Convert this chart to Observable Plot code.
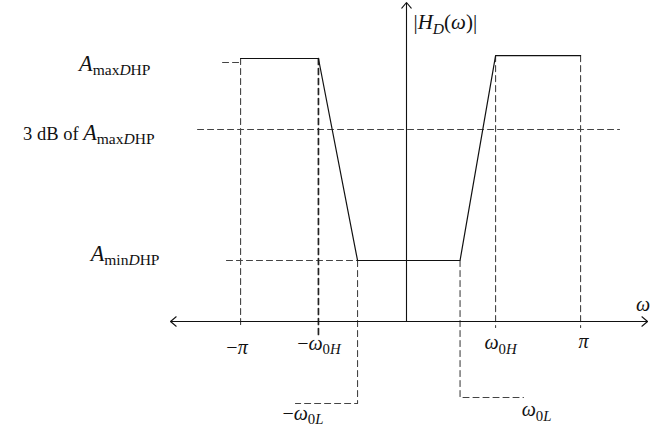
<!DOCTYPE html>
<html><head><meta charset="utf-8">
<script src="https://cdn.jsdelivr.net/npm/d3@7"></script>
<script src="https://cdn.jsdelivr.net/npm/@observablehq/plot@0.6"></script>
<style>html,body{margin:0;padding:0;background:#fff}svg{display:block}</style>
</head><body><div id="chart"></div>
<script>
// ---- Data (units: x in multiples of ~pi, y relative to A_max) ----
// Ideal digital high-pass magnitude response |H_D(w)|
const responseX = [-0.976, -0.518, -0.288, 0.315, 0.524, 1.024];
const responseY = [1.0, 1.0, 0.232, 0.232, 1.011, 1.011];

// Dashed guide polylines
const guideNames = ["maxTick", "negPi", "negW0H", "negW0L", "w0L", "w0H", "pi", "threeDB", "minLevel"];
const guideX = [
  [-1.082, -0.976],
  [-0.976, -0.976],
  [-0.518, -0.518],
  [-0.288, -0.288, -0.653],
  [0.315, 0.315, 0.688],
  [0.524, 0.524],
  [1.024, 1.024],
  [-1.229, 1.253],
  [-1.059, -0.288]
];
const guideY = [
  [0.985, 0.985],
  [1.0, -0.023],
  [1.0, -0.05],
  [0.232, -0.312, -0.312],
  [0.232, -0.289, -0.289],
  [1.011, -0.023],
  [1.011, -0.023],
  [0.730, 0.730],
  [0.232, 0.232]
];
const guideBold = [false, false, true, false, false, false, false, false, false];

// Axes (arrows from origin)
const axisX2 = [1.418, -1.388, 0];
const axisY2 = [0, 0, 1.213];

// Frequency labels (markup: *italic*, _{subscript})
const freqLabels = ["−*π*", "−*ω*_{0*H*}", "*ω*_{0*H*}", "*π*", "−*ω*_{0*L*}", "*ω*_{0*L*}", "*ω*"];
const freqLabelX = [-0.997, -0.515, 0.553, 1.041, -0.609, 0.765, 1.391];
const freqLabelY = [-0.100, -0.084, -0.081, -0.077, -0.350, -0.336, 0.064];

// Level labels
const levelLabels = ["*A*_{max*D*HP}", "3 dB of *A*_{max*D*HP}", "*A*_{min*D*HP}"];
const levelLabelX = [-1.506, -1.482, -1.453];
const levelLabelY = [0.976, 0.714, 0.254];

const yAxisLabel = ["|*H*_{*D*}(*ω*)|"];
const yAxisLabelX = [0.041];
const yAxisLabelY = [1.136];

// ---- Build tables ----
const response = responseX.map((x, i) => ({x, y: responseY[i]}));
const guides = guideNames.flatMap((g, i) => guideX[i].map((x, j) => ({g, x, y: guideY[i][j], bold: guideBold[i]})));
const axes = axisX2.map((x2, i) => ({x1: 0, y1: 0, x2, y2: axisY2[i]}));
const freq = freqLabels.map((t, i) => ({t, x: freqLabelX[i], y: freqLabelY[i]}));
const levels = levelLabels.map((t, i) => ({t, x: levelLabelX[i], y: levelLabelY[i]}));
const ylab = yAxisLabel.map((t, i) => ({t, x: yAxisLabelX[i], y: yAxisLabelY[i]}));

const FONT = "'Liberation Serif', 'DejaVu Serif', serif";

const chart = Plot.plot({
  width: 669,
  height: 429,
  margin: 0,
  x: {domain: [-406 / 170, 263 / 170], axis: null},
  y: {domain: [-108 / 263, 321 / 263], axis: null},
  style: {fontFamily: FONT, background: "#fff"},
  marks: [
    Plot.line(guides.filter(d => !d.bold), {x: "x", y: "y", z: "g", stroke: "#444", strokeWidth: 1.1, strokeDasharray: "6,4"}),
    Plot.line(guides.filter(d => d.bold), {x: "x", y: "y", z: "g", stroke: "#222", strokeWidth: 1.7, strokeDasharray: "6,4"}),
    Plot.arrow(axes, {x1: "x1", y1: "y1", x2: "x2", y2: "y2", bend: 0, stroke: "#111", strokeWidth: 1.1, headLength: 10, headAngle: 80}),
    Plot.line(response, {x: "x", y: "y", stroke: "#111", strokeWidth: 1.2}),
    Plot.text(freq, {x: "x", y: "y", text: "t", fontSize: 20, textAnchor: "middle", lineAnchor: "middle", fill: "#111", fontFamily: FONT}),
    Plot.text(levels, {x: "x", y: "y", text: "t", fontSize: 18.5, textAnchor: "end", lineAnchor: "middle", fill: "#111", fontFamily: FONT}),
    Plot.text(ylab, {x: "x", y: "y", text: "t", fontSize: 21, textAnchor: "start", lineAnchor: "middle", fill: "#111", fontFamily: FONT})
  ]
});

document.getElementById("chart").appendChild(chart);

// ---- rich text: italic & subscript ----
function parse(s) {
  const segs = [];
  let ital = false, sub = false, buf = "";
  const push = () => { if (buf) segs.push({text: buf, ital, sub}); buf = ""; };
  for (let i = 0; i < s.length; i++) {
    const c = s[i];
    if (c === "*") { push(); ital = !ital; }
    else if (c === "_" && s[i + 1] === "{") { push(); sub = true; i++; }
    else if (c === "}" && sub) { push(); sub = false; }
    else buf += c;
  }
  push();
  return segs;
}
const levelSet = new Set(levelLabels);
chart.querySelectorAll("text").forEach(function (node) {
  const s = node.textContent;
  if (s.indexOf("*") < 0 && s.indexOf("_{") < 0) return;
  const fs = parseFloat(getComputedStyle(node).fontSize) || 18;
  const isLevel = levelSet.has(s);
  const subRatio = isLevel ? 0.84 : 0.74;
  const italScale = isLevel ? 1.2 : 1;
  const segs = parse(s);
  while (node.firstChild) node.removeChild(node.firstChild);
  let inSub = false;
  const shift = fs * 0.22;
  const NS = "http://www.w3.org/2000/svg";
  for (const sg of segs) {
    const ts = document.createElementNS(NS, "tspan");
    ts.textContent = sg.text;
    if (sg.ital) ts.setAttribute("font-style", "italic");
    if (sg.sub) ts.setAttribute("font-size", fs * subRatio);
    else if (sg.ital && italScale !== 1) ts.setAttribute("font-size", fs * italScale);
    if (sg.sub && !inSub) ts.setAttribute("dy", shift);
    if (!sg.sub && inSub) ts.setAttribute("dy", -shift);
    inSub = sg.sub;
    node.appendChild(ts);
  }
});
</script>
</body></html>
